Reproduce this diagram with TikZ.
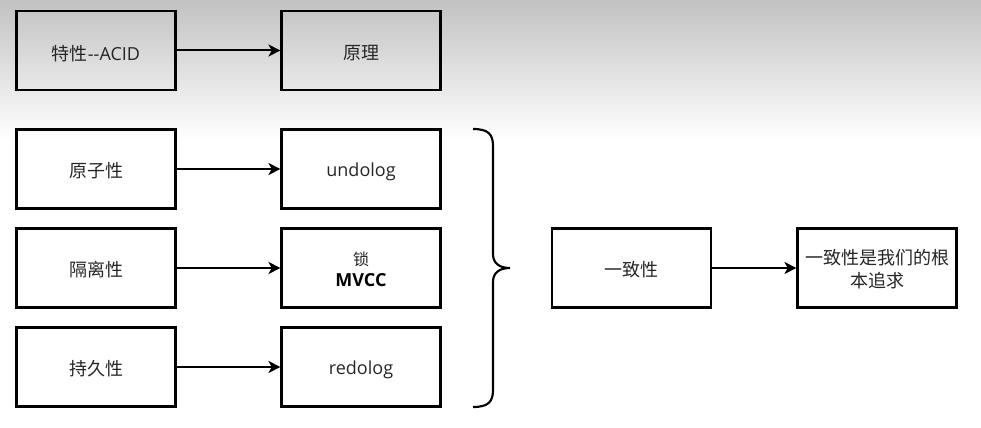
\documentclass[tikz,border=0pt]{standalone}
\usepackage{fontspec}
\setmainfont{Open Sans}
\newfontfamily\cjk{Noto Sans CJK SC}
\usetikzlibrary{arrows.meta}
\definecolor{txt}{HTML}{262626}
\newcommand{\lowerby}[2]{\raisebox{-#1}[\height][\depth]{#2}}
\begin{document}
\begin{tikzpicture}[x=0.75pt,y=-0.75pt,
  box/.style={draw=black,line width=1.6pt,minimum width=119.25pt,minimum height=59.25pt,inner sep=0pt,text=txt,font=\fontsize{13.5}{17}\selectfont,align=center},
  conn/.style={line width=1.5pt,-{Stealth[length=9pt,width=9pt,inset=2.5pt]}}]
\useasboundingbox (0,0) rectangle (981,428);
\fill[white] (0,0) rectangle (981,428);
\shade[top color=black!24,bottom color=white] (0,0) rectangle (981,140);
% top row
\node[box] (acid) at (96,50.5) {\lowerby{2pt}{{\cjk 特性}-{}-ACID}};
\node[box] (yl) at (361,50.5) {\lowerby{2pt}{\cjk 原理}};
% rows
\node[box] (a) at (96,169) {\lowerby{1.5pt}{\cjk 原子性}};
\node[box] (i) at (96,268) {\lowerby{1.5pt}{\cjk 隔离性}};
\node[box] (d) at (96,367) {\lowerby{1.5pt}{\cjk 持久性}};
\node[box] (undo) at (361,169) {\lowerby{2pt}{undolog}};
\node[box] (lock) at (361,268) {\lowerby{1pt}{\cjk\fontsize{12}{14}\selectfont 锁}\\[-1pt]\lowerby{1pt}{\color{black}\bfseries MVCC}};
\node[box] (redo) at (361,367) {\lowerby{2pt}{redolog}};
\node[box] (c) at (631.5,268) {\lowerby{1.5pt}{\cjk 一致性}};
\node[box,font=\cjk\fontsize{13.5}{17.25}\selectfont] (goal) at (877,268) {\lowerby{1pt}{一致性是我们的根}\\\lowerby{1pt}{本追求}};
\draw[conn] (acid) -- (yl);
\draw[conn] (a) -- (undo);
\draw[conn] (i) -- (lock);
\draw[conn] (d) -- (redo);
\draw[conn] (c) -- (goal);
% brace
\coordinate (bt) at (473,129);
\coordinate (bb) at (473,407);
\coordinate (tip) at (510,268);
\draw[line width=1.6pt] (bt) .. controls (488,129) and (493,134) .. (493,146) -- (493,254) .. controls (493,263) and (499,268) .. (tip)
  .. controls (499,268) and (493,273) .. (493,282) -- (493,390) .. controls (493,402) and (488,407) .. (bb);
\end{tikzpicture}
\end{document}
